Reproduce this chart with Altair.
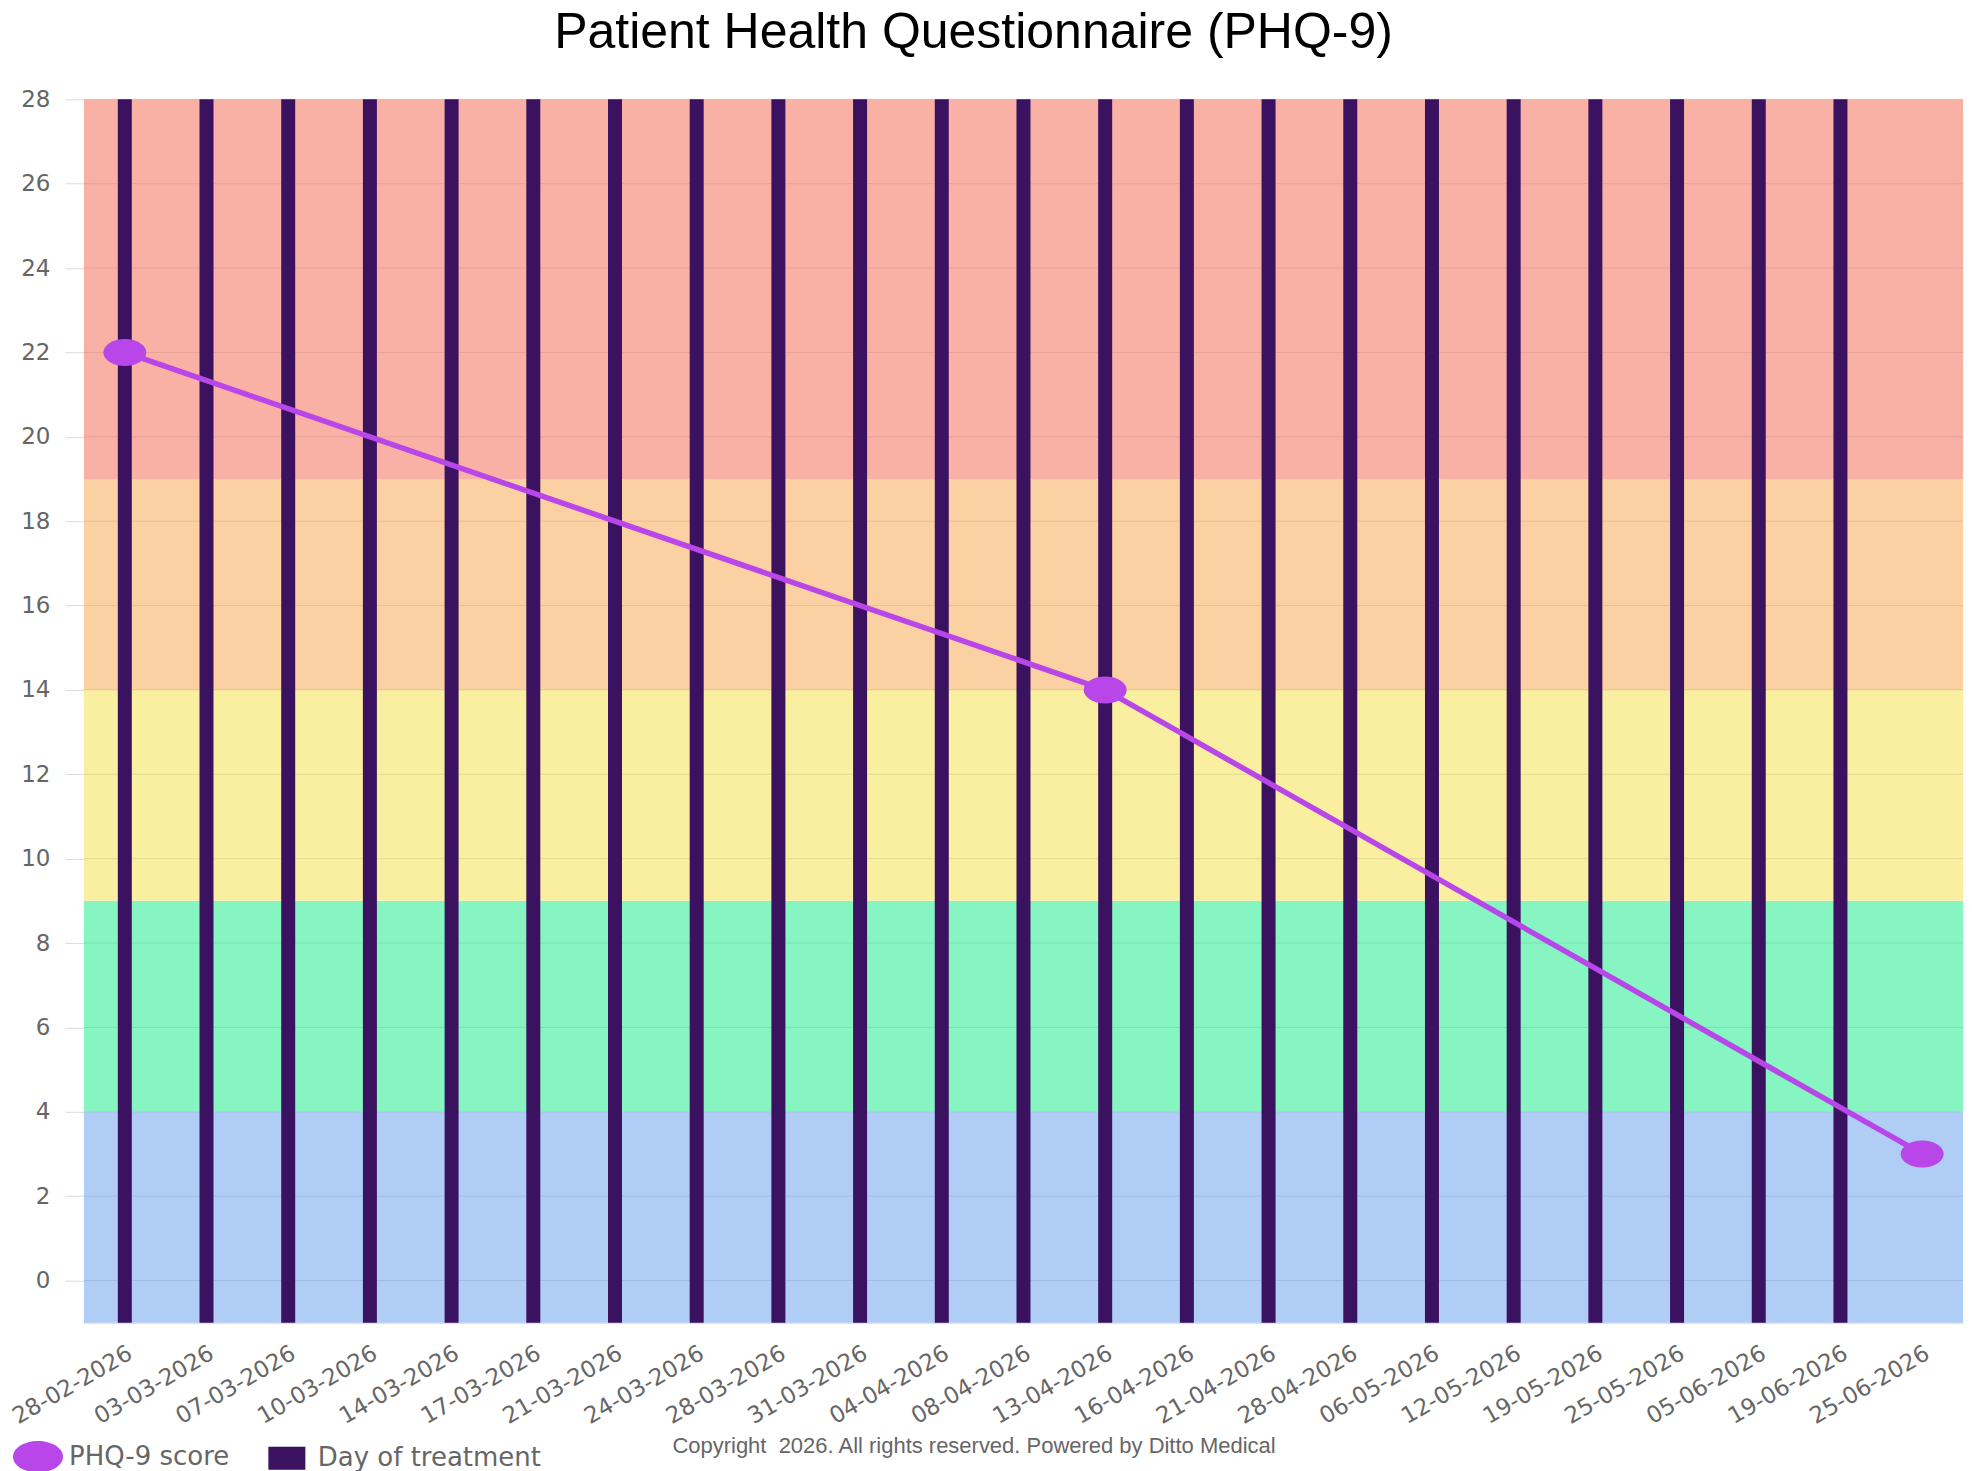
import altair as alt
import pandas as pd

# ---- data ----
dates = ["28-02-2026", "03-03-2026", "07-03-2026", "10-03-2026", "14-03-2026",
         "17-03-2026", "21-03-2026", "24-03-2026", "28-03-2026", "31-03-2026",
         "04-04-2026", "08-04-2026", "13-04-2026", "16-04-2026", "21-04-2026",
         "28-04-2026", "06-05-2026", "12-05-2026", "19-05-2026", "25-05-2026",
         "05-06-2026", "19-06-2026", "25-06-2026"]
treatment_days = dates[:-1]
score_dates = ["28-02-2026", "13-04-2026", "25-06-2026"]
scores = [22, 14, 3]

band_lo = [-1, 4, 9, 14, 19]
band_hi = [4, 9, 14, 19, 28]
band_colors = ["#b0cdf5", "#86f5c1", "#faeea0", "#fbd1a3", "#fab1a5"]

y_ticks = list(range(0, 29, 2))
y_min, y_max = -1, 28

series = ["PHQ-9 score", "Day of treatment"]
series_colors = ["#b946e8", "#3b1260"]

title_text = "Patient Health Questionnaire (PHQ-9)"
copyright_text = "Copyright \u00a02026. All rights reserved. Powered by Ditto Medical"

# ---- layout / style ----
W, H = 1880, 1224
ELLIPSE = "M-1,0A1,0.63,0,1,1,1,0A1,0.63,0,1,1,-1,0Z"
RECT = "M-0.74,-0.46H0.74V0.46H-0.74Z"

bands_df = pd.DataFrame({"lo": band_lo, "hi": band_hi, "c": band_colors})
grid_df = pd.DataFrame({"g": y_ticks})
bars_df = pd.DataFrame({"date": treatment_days, "top": y_max, "series": series[1]})
score_df = pd.DataFrame({"date": score_dates, "score": scores, "series": series[0]})

y_scale = alt.Scale(domain=[y_min, y_max], nice=False, zero=False)
y_axis = alt.Axis(values=y_ticks, title=None, grid=False, tickSize=19,
                  tickColor="#dcdcdc", labelPadding=15, labelFont="DejaVu Sans",
                  labelFontSize=23, labelColor="#666666", domainColor="#d4d4d4")
x_scale = alt.Scale(domain=dates, paddingInner=0, paddingOuter=0)
x_axis = alt.Axis(title=copyright_text, labelAngle=-30, labelAlign="right",
                  labelBaseline="top", labelPadding=19, ticks=False,
                  labelFont="DejaVu Sans", labelFontSize=23, labelColor="#666666",
                  domainColor="#d4d4d4", labelOverlap=False,
                  titleFont="Liberation Sans", titleFontSize=22,
                  titleFontWeight="normal", titleColor="#666666",
                  titleX=890, titleY=123, titleAlign="center",
                  titleBaseline="middle")
color_scale = alt.Scale(domain=series, range=series_colors)
shape_scale = alt.Scale(domain=series, range=[ELLIPSE, RECT])
legend = alt.Legend(title=None, orient="none", legendX=-71, legendY=1333,
                    direction="horizontal", symbolSize=2500,
                    labelFont="DejaVu Sans", labelFontSize=26, labelLimit=0,
                    labelColor="#666666", labelOffset=6, columnPadding=32,
                    symbolStrokeWidth=0)

x_enc = alt.X("date:N", scale=x_scale, axis=x_axis, sort=dates)

bands = alt.Chart(bands_df).mark_rect().encode(
    y=alt.Y("lo:Q", scale=y_scale, axis=y_axis),
    y2="hi:Q",
    x=alt.value(0),
    x2=alt.value("width"),
    fill=alt.Fill("c:N", scale=None),
)

grid = alt.Chart(grid_df).mark_rule(color="black", opacity=0.09, strokeWidth=1).encode(
    y=alt.Y("g:Q", scale=y_scale, axis=y_axis),
)

bars = alt.Chart(bars_df).mark_bar(width=14).encode(
    x=x_enc,
    y=alt.Y("top:Q", scale=y_scale, axis=y_axis),
    y2=alt.datum(y_min),
    color=alt.Color("series:N", scale=color_scale, legend=legend),
)

line = alt.Chart(score_df).mark_line(color=series_colors[0], strokeWidth=5.5).encode(
    x=x_enc,
    y=alt.Y("score:Q", scale=y_scale, axis=y_axis),
)

points = alt.Chart(score_df).mark_point(filled=True, size=1849, opacity=1).encode(
    x=x_enc,
    y=alt.Y("score:Q", scale=y_scale, axis=y_axis),
    color=alt.Color("series:N", scale=color_scale, legend=legend),
    shape=alt.Shape("series:N", scale=shape_scale, legend=legend),
)

chart = alt.layer(bands, grid, bars, line, points).properties(
    width=W, height=H, padding=0,
    title=alt.TitleParams(text=title_text, fontSize=50, font="Liberation Sans",
                          fontWeight="normal", color="black", dx=-50,
                          offset=30, anchor="middle"),
).configure_view(stroke=None)

chart.save("out.html", embed_options={"renderer": "svg", "actions": False})
